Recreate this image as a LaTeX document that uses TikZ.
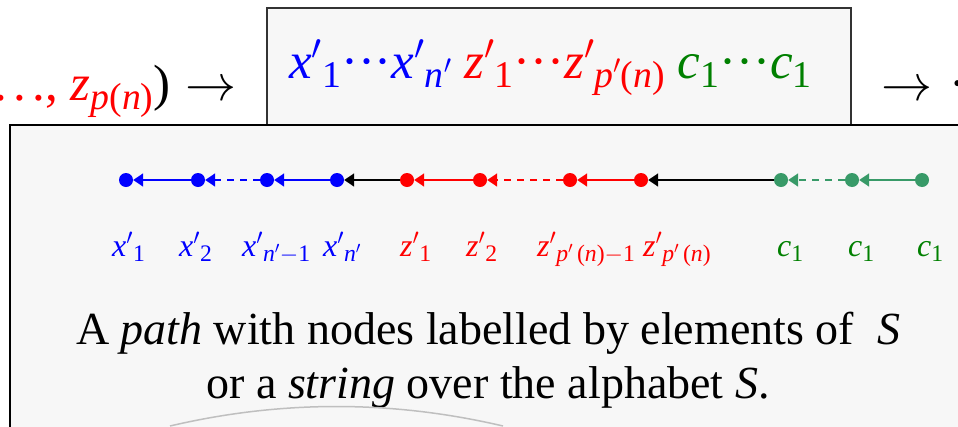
\RequirePackage{fix-cm}
\documentclass[tikz,border=0pt]{standalone}
\usepackage{fontspec}
\setmainfont{Liberation Serif}[ItalicFont={Liberation Serif Italic}, BoldFont={Liberation Serif Bold}]
\usepackage{graphicx}
\usetikzlibrary{arrows.meta}
\definecolor{boxfill}{HTML}{F7F7F7}
\definecolor{pgreen}{RGB}{56,154,104}
\definecolor{dgreen}{RGB}{0,128,0}
\newcommand\sbx[1]{\raisebox{-0.18em}{\scalebox{0.74}{#1}}}
\newcommand\prm{$^{\prime}$}
\newcommand\cdts{\textperiodcentered\textperiodcentered\textperiodcentered}
\tikzset{
  pdot/.style={circle, fill=#1, inner sep=0pt, minimum size=14pt},
  edgeln/.style={line width=1.8pt, -{Triangle[length=10pt,width=13pt]}},
  dsh/.style={dash pattern=on 7pt off 6pt},
  lbl/.style={anchor=base west, inner sep=0pt, font=\fontsize{32}{34}\selectfont},
  big/.style={inner sep=0pt, font=\fontsize{51}{54}\selectfont},
}
\begin{document}
\begin{tikzpicture}[x=1pt,y=-1pt]
\useasboundingbox (0,0) rectangle (958,426);
\clip (0,0) rectangle (958,426);
% boxes
\draw[fill=boxfill, draw=black!80, line width=1.3pt] (267,8) rectangle (851,125);
\draw[fill=boxfill, draw=black, line width=2pt] (10,125) rectangle (1000,480);
% top texts
\node[big, anchor=base east] (lft) at (237,100)
  {\color{red}.\kern0.12em.\kern0.12em.\kern0.12em., \textit{z}\sbx{\textit{p}(\textit{n})}\color{black})\hspace{0.3em}$\rightarrow$};
\node[big, anchor=base west] (str) at (289,78)
  {{\color{blue}\textit{x}\prm\sbx{1}\cdts\textit{x}\prm\sbx{\textit{n}\prm}} {\color{red}\textit{z}\prm\sbx{1}\cdts\textit{z}\prm\sbx{\textit{p}\prm(\textit{n})}} {\color{dgreen}\textit{c}\sbx{1}\cdts\textit{c}\sbx{1}}};
\node[big, anchor=base west] (rgt) at (881,100) {$\rightarrow$\hspace{0.33em}\cdts};
% path nodes
\node[pdot=blue] (x1) at (126,180) {};
\node[pdot=blue] (x2) at (198,180) {};
\node[pdot=blue] (x3) at (267,180) {};
\node[pdot=blue] (x4) at (337,180) {};
\node[pdot=red] (z1) at (407,180) {};
\node[pdot=red] (z2) at (480,180) {};
\node[pdot=red] (z3) at (570,180) {};
\node[pdot=red] (z4) at (641,180) {};
\node[pdot=pgreen] (c1) at (781,180) {};
\node[pdot=pgreen] (c2) at (852,180) {};
\node[pdot=pgreen] (c3) at (922,180) {};
% edges
\draw[edgeln, blue] (x2) -- (x1);
\draw[edgeln, blue, dsh] (x3) -- (x2);
\draw[edgeln, blue] (x4) -- (x3);
\draw[edgeln, black] (z1) -- (x4);
\draw[edgeln, red] (z2) -- (z1);
\draw[edgeln, red, dsh] (z3) -- (z2);
\draw[edgeln, red] (z4) -- (z3);
\draw[edgeln, black] (c1) -- (z4);
\draw[edgeln, pgreen, dsh] (c2) -- (c1);
\draw[edgeln, pgreen] (c3) -- (c2);
% labels
\node[lbl, blue] (lx1) at (112,256) {\textit{x}\prm\sbx{1}};
\node[lbl, blue] (lx2) at (179,256) {\textit{x}\prm\sbx{2}};
\node[lbl, blue] (lx3) at (242,256) {\textit{x}\prm\sbx{\textit{n}\prm$-$1}};
\node[lbl, blue] (lx4) at (323,256) {\textit{x}\prm\sbx{\textit{n}\prm}};
\node[lbl, red] (lz1) at (400,256) {\textit{z}\prm\sbx{1}};
\node[lbl, red] (lz2) at (466,256) {\textit{z}\prm\sbx{2}};
\node[lbl, red] (lz3) at (537,256) {\textit{z}\prm\sbx{\textit{p}\prm\,(\textit{n})$-$1}};
\node[lbl, red] (lz4) at (643,256) {\textit{z}\prm\sbx{\textit{p}\prm\,(\textit{n})}};
\node[lbl, dgreen] (lc1) at (777,256) {\textit{c}\sbx{1}};
\node[lbl, dgreen] (lc2) at (848,256) {\textit{c}\sbx{1}};
\node[lbl, dgreen] (lc3) at (917,256) {\textit{c}\sbx{1}};
% caption
\node[anchor=north, inner sep=0pt, align=center, font=\fontsize{46}{54}\selectfont] (cap) at (488,311.5)
  {A \textit{path} with nodes labelled by elements of\ \ \textit{S}\\ or a \textit{string} over the alphabet \textit{S}.};
% arc
\draw[black!25, line width=1.5pt] (170,426) .. controls (281,400) and (392,400) .. (503,426);
\end{tikzpicture}
\end{document}
